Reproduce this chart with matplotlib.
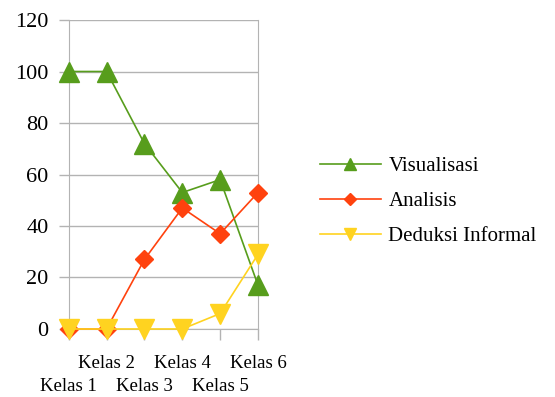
import matplotlib.pyplot as plt

plt.rcParams['font.family'] = ['Liberation Serif', 'DejaVu Serif']

kelas = ["Kelas 1", "Kelas 2", "Kelas 3", "Kelas 4", "Kelas 5", "Kelas 6"]
visualisasi = [100, 100, 72, 53, 58, 17]
analisis = [0, 0, 27, 47, 37, 53]
deduksi = [0, 0, 0, 0, 6, 29]

hijau = "#579d1c"
merah = "#ff420e"
kuning = "#ffd320"
abu = "#b3b3b3"

fig = plt.figure(figsize=(5.55, 3.97), dpi=100)
ax = fig.add_axes([0.1238, 0.1713, 0.3411, 0.7783])

x = list(range(len(kelas)))
ax.plot(x, visualisasi, color=hijau, lw=1.2, marker="^", ms=14.5,
        clip_on=False, zorder=3, label="Visualisasi")
ax.plot(x, analisis, color=merah, lw=1.2, marker="D", ms=9.5,
        clip_on=False, zorder=4, label="Analisis")
ax.plot(x, deduksi, color=kuning, lw=1.2, marker="v", ms=14.5,
        clip_on=False, zorder=5, label="Deduksi Informal")

ax.set_xlim(0, 5)
ax.set_ylim(0, 120)
ax.set_yticks(range(0, 121, 20))
ax.yaxis.grid(True, color=abu, lw=1)
ax.set_axisbelow(True)
for s in ["left", "right", "top", "bottom"]:
    ax.spines[s].set_color(abu)
ax.spines["top"].set_visible(False)

ax.set_xticks(x)
ax.set_xticklabels(kelas, fontsize=13.5)
ax.tick_params(axis="x", length=8, color=abu, width=1)
ax.tick_params(axis="y", length=7.5, color=abu, width=1, labelsize=16, pad=7)
# label kelas dibuat bertingkat dua baris
for i, t in enumerate(ax.xaxis.get_major_ticks()):
    t.set_pad(10.5 if i % 2 else 27.5)

fig.legend(loc="center left", bbox_to_anchor=(0.543, 0.493), frameon=False,
           fontsize=15, handlelength=2.9, handletextpad=0.38,
           labelspacing=0.73, markerscale=0.6)

fig.savefig("out.png", dpi=100)
